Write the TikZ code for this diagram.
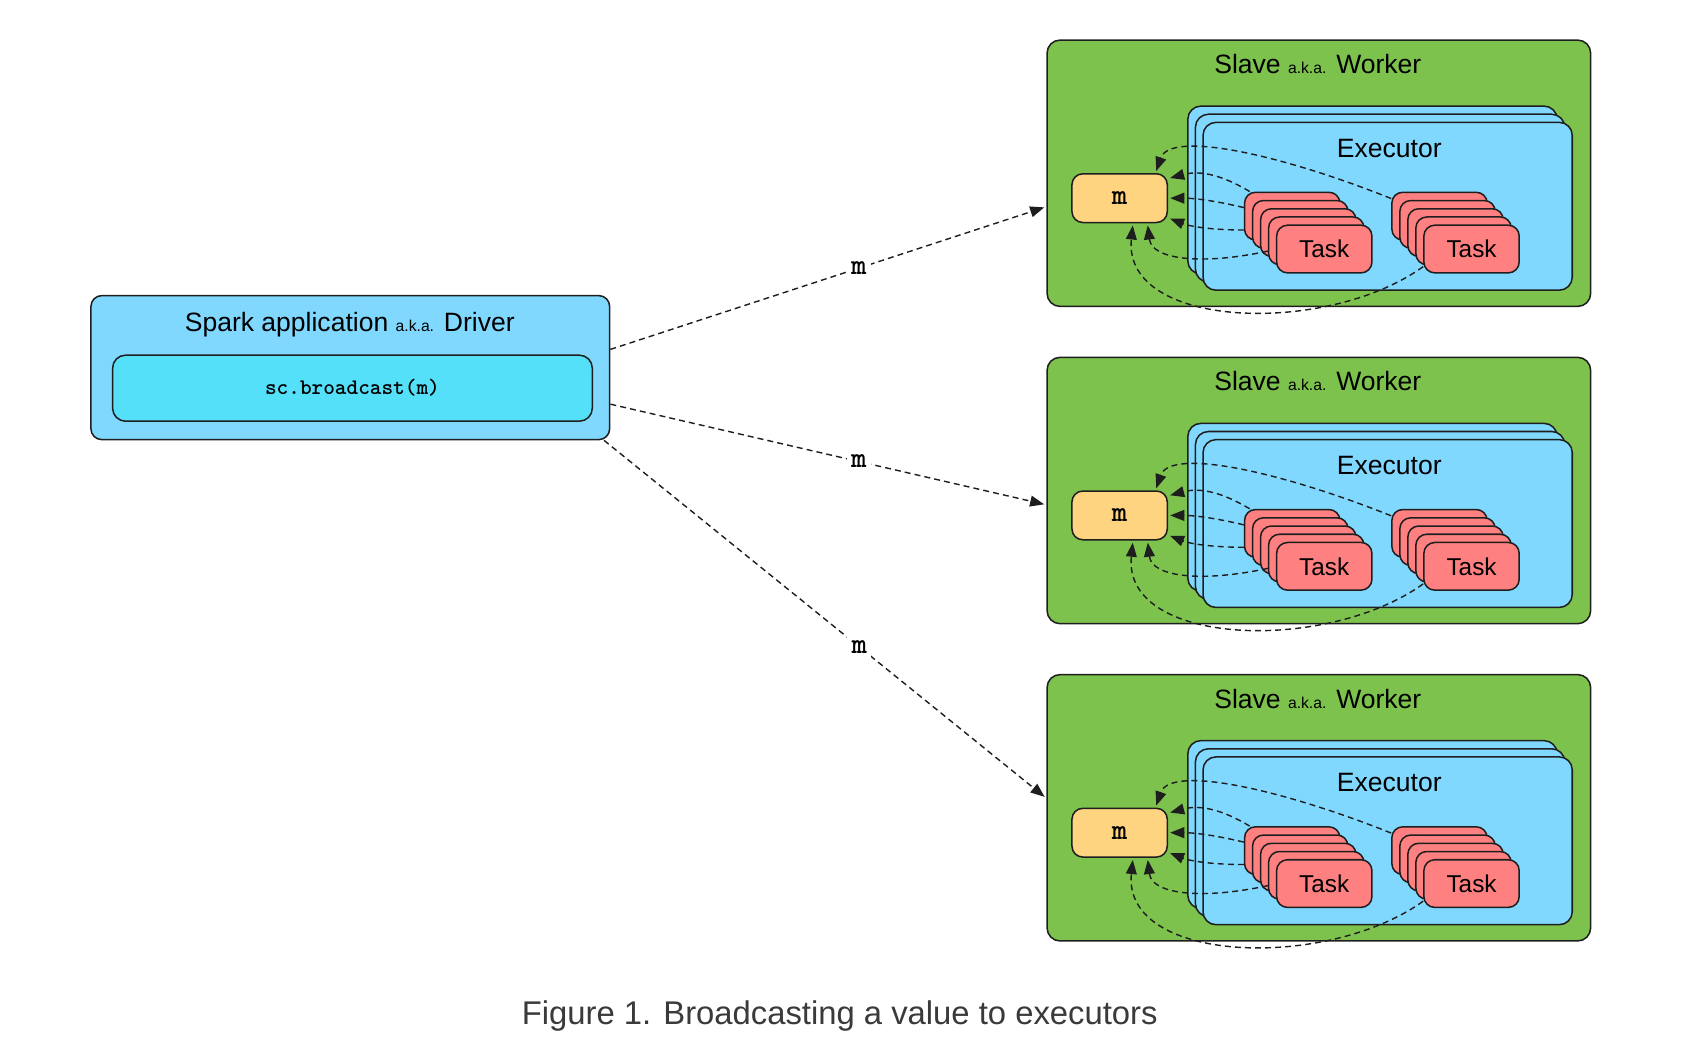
\documentclass[tikz,border=0pt]{standalone}
\usepackage{fontspec}
\setmainfont{Liberation Sans}
\newfontfamily\codefont{lmmonolt10-bold.otf}
\usetikzlibrary{arrows.meta}

\definecolor{workergreen}{HTML}{7CC24C}
\definecolor{execblue}{HTML}{80D8FF}
\definecolor{codecyan}{HTML}{55E0FA}
\definecolor{msgyellow}{HTML}{FFD480}
\definecolor{taskred}{HTML}{FF8080}
\definecolor{edgeline}{HTML}{1E1E1E}
\definecolor{dashgray}{HTML}{1E1E1E}
\definecolor{captiongray}{HTML}{3A3A3A}

\newcommand{\akatext}{{\fontsize{14.5}{17}\selectfont a.k.a.}}

\begin{document}
\begin{tikzpicture}[x=1pt, y=-1pt,
    box/.style={draw=edgeline, line width=1.4pt, rounded corners=10pt, inner sep=0pt},
    worker/.style={box, fill=workergreen, minimum width=502pt, minimum height=246pt, rounded corners=12pt},
    exec/.style={box, fill=execblue, minimum width=341pt, minimum height=155pt, rounded corners=12pt},
    task/.style={box, fill=taskred, minimum width=88pt, minimum height=44pt, font=\fontsize{22.5}{27}\selectfont},
    msg/.style={box, fill=msgyellow, minimum width=88pt, minimum height=45pt, font=\fontsize{27}{30}\codefont},
    hdr/.style={anchor=base, inner sep=0pt, font=\fontsize{24.5}{29}\selectfont},
    flow/.style={draw=dashgray, line width=1.3pt, dash pattern=on 5.5pt off 3.8pt,
      -{Triangle[length=13pt, width=10pt]}, shorten >=2pt},
    lbl/.style={fill=white, inner sep=4pt, font=\fontsize{27}{30}\codefont}
  ]

  \useasboundingbox (0,0) rectangle (1570,957);

  % Driver
  \node[box, fill=execblue, minimum width=479pt, minimum height=133pt] (drv) at (323.5,339.5) {};
  \node[hdr] (drvtitle) at (323,306) {Spark application \akatext{} Driver};
  \node[box, fill=codecyan, minimum width=443pt, minimum height=61pt, rounded corners=12pt,
    font=\fontsize{20.5}{24}\codefont] (code) at (325.5,358.5) {sc.broadcast(m)};

  % Workers
  \foreach \i/\dy in {1/0, 2/293, 3/586} {
    \begin{scope}[shift={(0,\dy)}]
      \node[worker] (w\i) at (1218,160) {};
      \node[hdr] (wt\i) at (1217,68) {Slave \akatext{} Worker};

      % executor stack
      \node[exec] (eb\i) at (1267.5,175.5) {};
      \node[exec] (em\i) at (1274.5,183) {};
      \node[exec] (e\i) at (1281.5,190.5) {};
      \node[hdr] (el\i) at (1283,145) {Executor};

      % task stacks
      \foreach \k in {4,...,1} {
        \node[task] (lt\i-\k) at ({1223-7.4*\k},{230-7.6*\k}) {};
        \node[task] (rt\i-\k) at ({1359-7.4*\k},{230-7.6*\k}) {};
      }
      \node[task] (lt\i-0) at (1223,230) {Task};
      \node[task] (rt\i-0) at (1359,230) {Task};

      \node[msg] (m\i) at (1034,183) {m};

      % fetches back to m
      \draw[flow] (rt\i-4.160) .. controls +(-100,-40) and +(14,-40) .. (m\i.35);
      \draw[flow] (lt\i-4.150) .. controls +(-25,-15) and +(30,-8) .. (m\i.22);
      \draw[flow] (lt\i-4.170) .. controls +(-25,-6) and +(25,0) .. (m\i.east);
      \draw[flow] (lt\i-4.196) .. controls +(-30,0) and +(20,8) .. (m\i.-22);
      \draw[flow] (lt\i-1.192) .. controls +(-60,13) and +(4,34) .. (m\i.-42);
      \draw[flow] (rt\i-0.200) .. controls +(-89,64) and +(-10,98) .. (m\i.-62);
    \end{scope}
  }

  % Broadcast
  \draw[flow] (drv.4) -- (w1.187) node[lbl, pos=0.57] (b1) {m};
  \draw[flow] (drv.-8) -- (w2.183) node[lbl, pos=0.57] (b2) {m};
  \draw[flow] (drv.-16) -- (w3.178) node[lbl, pos=0.577] (b3) {m};

  \node[anchor=base, inner sep=0pt, text=captiongray, font=\fontsize{30.3}{36}\selectfont] (cap) at (775.5,946)
    {Figure 1. Broadcasting a value to executors};
\end{tikzpicture}
\end{document}
